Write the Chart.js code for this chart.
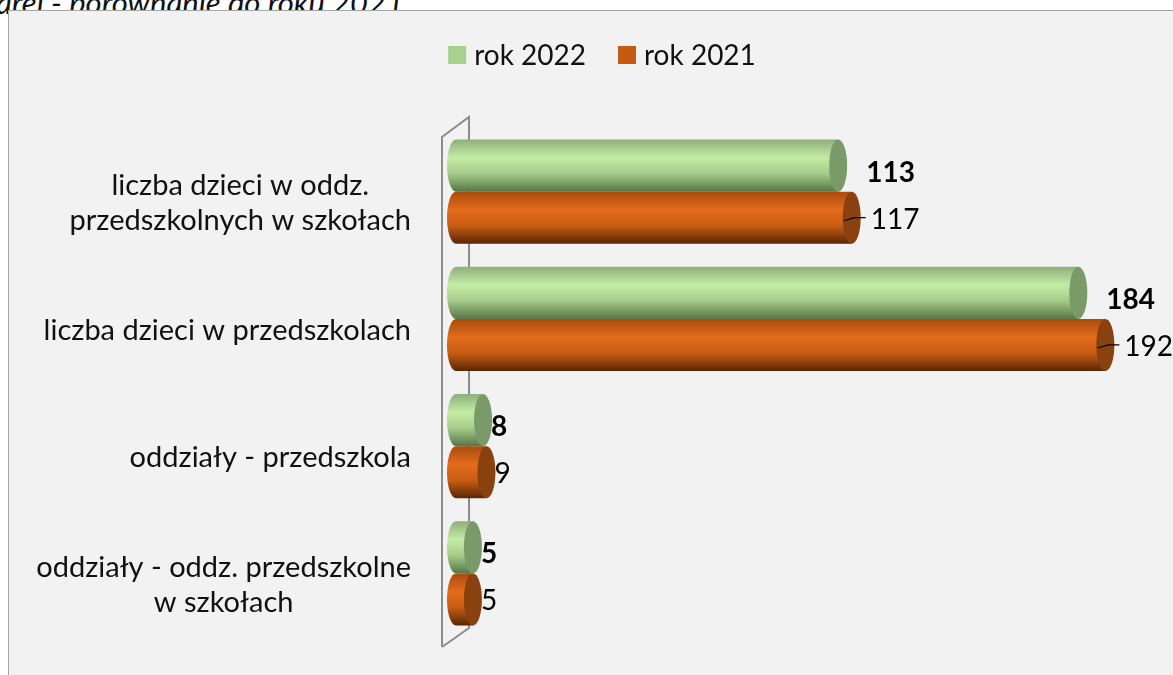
<!DOCTYPE html>
<html>
<head>
<meta charset="utf-8">
<script src="https://cdn.jsdelivr.net/npm/chart.js@4"></script>
<style>
  body { margin: 0; background: #fff; overflow: hidden; width: 1173px; height: 675px; position: relative; font-family: Lato, sans-serif; }
  #cap { position: absolute; left: -4px; top: -17px; font-style: italic; font-size: 31px; color: #111; white-space: nowrap; }
  #box { position: absolute; left: 8px; top: 10px; width: 1190px; height: 700px; background: #f2f2f2; border: 1px solid #a6a6a6; }
  canvas { position: absolute; left: 0; top: 0; }
</style>
</head>
<body>
<div id="cap">arej - porównanie do roku 2021.</div>
<div id="box"><canvas id="myChart" width="1164" height="664"></canvas></div>
<script>
// data
const categories = [
  ['liczba dzieci w oddz.', 'przedszkolnych w szkołach'],
  'liczba dzieci w przedszkolach',
  'oddziały - przedszkola',
  ['oddziały - oddz. przedszkolne', 'w szkołach']
];
const rok2022 = [113, 184, 8, 5];
const rok2021 = [117, 192, 9, 5];
const seriesNames = ['rok 2022', 'rok 2021'];

const FONT = 'Lato, "Noto Sans", sans-serif';

// colours for the cylinder look: [top edge, highlight, mid, bottom], end face
const looks = [
  { legend: '#a9d18e', stops: ['#8fae7c', '#c3eca5', '#a6cc8a', '#567646'], face: '#7b9a69', bold: true, off: 28 },
  { legend: '#c55a11', stops: ['#a94b0e', '#e36b1c', '#c95d14', '#582605'], face: '#8a4110', bold: false, off: 19 }
];

const cylinders = {
  id: 'cylinders',
  beforeDatasetsDraw(chart) {
    // the 3D side wall behind the bars
    const ctx = chart.ctx, a = chart.chartArea;
    const fx = a.left - 14, bx = a.left + 13;
    ctx.save();
    ctx.strokeStyle = '#8c8c8c';
    ctx.lineWidth = 2;
    ctx.beginPath();
    ctx.moveTo(fx, a.bottom + 10);
    ctx.lineTo(fx, a.top + 9);
    ctx.lineTo(bx, a.top - 11);
    ctx.lineTo(bx, a.bottom - 9);
    ctx.lineTo(fx, a.bottom + 10);
    ctx.stroke();
    ctx.restore();
  },
  afterDatasetsDraw(chart) {
    const ctx = chart.ctx;
    ctx.save();
    chart.data.datasets.forEach(function(ds, di) {
      const look = looks[di];
      chart.getDatasetMeta(di).data.forEach(function(bar, i) {
        const end = bar.x, base = bar.base, y = bar.y, h = bar.height;
        const top = y - h / 2, bottom = y + h / 2;
        const rx = 9, ry = h / 2;
        const g = ctx.createLinearGradient(0, top, 0, bottom);
        g.addColorStop(0, look.stops[0]);
        g.addColorStop(0.35, look.stops[1]);
        g.addColorStop(0.65, look.stops[2]);
        g.addColorStop(1, look.stops[3]);
        ctx.beginPath();
        ctx.moveTo(base, top);
        ctx.lineTo(end, top);
        ctx.lineTo(end, bottom);
        ctx.lineTo(base, bottom);
        ctx.ellipse(base, y, rx, ry, 0, Math.PI / 2, Math.PI * 1.5);
        ctx.closePath();
        ctx.fillStyle = g;
        ctx.fill();
        ctx.beginPath();
        ctx.ellipse(end, y, rx, ry, 0, 0, Math.PI * 2);
        ctx.fillStyle = look.face;
        ctx.fill();

        // value label
        const v = ds.data[i];
        ctx.fillStyle = '#000';
        ctx.font = (look.bold ? 'bold ' : '') + '28px ' + FONT;
        ctx.textAlign = 'left';
        ctx.textBaseline = 'middle';
        const ly = look.bold ? y + 7 : y + 2;
        ctx.fillText(String(v), end + (v > 50 ? look.off : 8), ly);
        if (!look.bold && v > 100) {
          ctx.strokeStyle = '#000';
          ctx.lineWidth = 1.2;
          ctx.beginPath();
          ctx.moveTo(end - 8, y + 3);
          ctx.lineTo(end + 3, y);
          ctx.lineTo(end + 14, y);
          ctx.stroke();
        }
      });
    });
    ctx.restore();
  },
  afterDraw(chart) {
    const ctx = chart.ctx, a = chart.chartArea;
    const yScale = chart.scales.y;
    ctx.save();
    // category labels, each line centred inside its own right-aligned block
    ctx.font = '29px ' + FONT;
    ctx.fillStyle = '#111';
    ctx.textBaseline = 'middle';
    ctx.textAlign = 'center';
    const right = a.left - 45, lh = 35;
    chart.data.labels.forEach(function(lab, i) {
      const lines = Array.isArray(lab) ? lab : [lab];
      const w = Math.max.apply(null, lines.map(function(t) { return ctx.measureText(t).width; }));
      const cx = right - w / 2;
      const cy = yScale.getPixelForValue(i) + 12;
      lines.forEach(function(t, k) {
        ctx.fillText(t, cx, cy + (k - (lines.length - 1) / 2) * lh);
      });
    });
    // legend
    ctx.font = '28px ' + FONT;
    const items = chart.data.datasets.map(function(ds, di) {
      return { text: ds.label, color: looks[di].legend, w: ctx.measureText(ds.label).width };
    });
    const box = 18, gap = 8, between = 32;
    let total = 0;
    items.forEach(function(it, k) { total += box + gap + it.w + (k ? between : 0); });
    let x = 593 - total / 2;
    const ly = 44;
    ctx.textAlign = 'left';
    items.forEach(function(it) {
      ctx.fillStyle = it.color;
      ctx.fillRect(x, ly - box / 2, box, box);
      ctx.fillStyle = '#111';
      ctx.fillText(it.text, x + box + gap, ly + 1);
      x += box + gap + it.w + between;
    });
    ctx.restore();
  }
};

const ctx = document.getElementById('myChart').getContext('2d');
const chart = new Chart(ctx, {
  type: 'bar',
  data: {
    labels: categories,
    datasets: [{
      label: seriesNames[0],
      data: rok2022,
      backgroundColor: 'rgba(0,0,0,0)'
    }, {
      label: seriesNames[1],
      data: rok2021,
      backgroundColor: 'rgba(0,0,0,0)'
    }]
  },
  options: {
    indexAxis: 'y',
    responsive: false,
    animation: false,
    layout: { padding: { top: 117, bottom: 38, left: 0, right: 0 } },
    datasets: { bar: { categoryPercentage: 0.82, barPercentage: 1.0 } },
    scales: {
      x: { display: false, min: 0, max: 212 },
      y: {
        grid: { display: false },
        border: { display: false },
        ticks: { color: 'rgba(0,0,0,0)' },
        afterFit: function(scale) { scale.width = 447; }
      }
    },
    plugins: {
      legend: { display: false },
      tooltip: { enabled: false }
    }
  },
  plugins: [cylinders]
});
</script>
</body>
</html>
